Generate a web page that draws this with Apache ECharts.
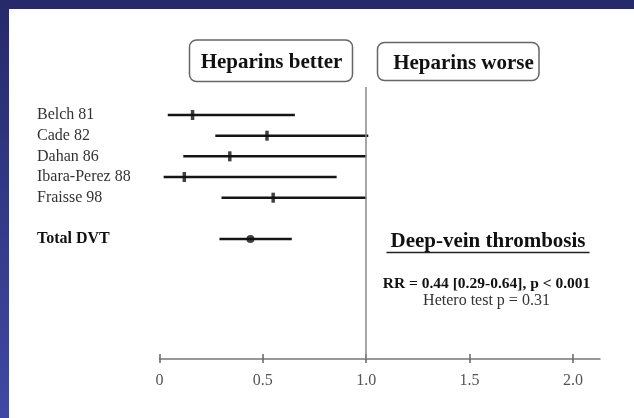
<!DOCTYPE html>
<html>
<head>
<meta charset="utf-8">
<script src="https://cdn.jsdelivr.net/npm/echarts@6/dist/echarts.min.js"></script>
<style>
html,body{margin:0;padding:0;background:#fff;}
#chart{width:634px;height:418px;}
</style>
</head>
<body>
<div id="chart"></div>
<script>
// ---- data ----
const studies = ['Belch 81', 'Cade 82', 'Dahan 86', 'Ibara-Perez 88', 'Fraisse 98'];
const studyRR = [0.16, 0.52, 0.34, 0.12, 0.55];
const studyLower = [0.04, 0.27, 0.115, 0.02, 0.30];
const studyUpper = [0.655, 1.01, 1.0, 0.857, 1.0];
const studyRows = [0, 1, 2, 3, 4];
const totalLabel = 'Total DVT';
const totalRR = 0.44;
const totalLower = 0.29;
const totalUpper = 0.64;
const totalRow = 6;
const xTicks = [0, 0.5, 1.0, 1.5, 2.0];
const xTickLabels = ['0', '0.5', '1.0', '1.5', '2.0'];
const nullValue = 1.0;

const rowLabels = studies.concat([totalLabel]);
const rowPositions = studyRows.concat([totalRow]);

const serif = "'Liberation Serif', 'Times New Roman', serif";

const ciData = studyRows.map((r, i) => [studyLower[i], studyUpper[i], r]).concat([[totalLower, totalUpper, totalRow]]);
const studyPts = studyRows.map((r, i) => [studyRR[i], r]);
const totalPts = [[totalRR, totalRow]];

const chart = echarts.init(document.getElementById('chart'), null, {renderer: 'canvas'});
chart.setOption({
  animation: false,
  backgroundColor: '#ffffff',
  grid: {left: 159.5, right: 34, top: 87, bottom: 59},
  xAxis: [{
    type: 'value', min: 0, max: 2.131, position: 'bottom',
    axisLine: {show: true, onZero: false, lineStyle: {color: '#777', width: 1.5}},
    axisTick: {show: true, customValues: xTicks, length: 4, lineStyle: {color: '#666', width: 1.5}},
    axisLabel: {
      customValues: xTicks, margin: 14,
      formatter: v => xTickLabels[xTicks.indexOf(v)] ?? '',
      fontFamily: serif, fontSize: 16, color: '#555'
    },
    splitLine: {show: false}
  }, {
    type: 'value', min: 0, max: 2.131, position: 'bottom', offset: 0,
    axisLine: {show: false, onZero: false},
    axisTick: {show: true, inside: true, customValues: xTicks, length: 5, lineStyle: {color: '#666', width: 1.5}},
    axisLabel: {show: false},
    splitLine: {show: false}
  }],
  yAxis: {
    type: 'value', inverse: true, min: -1.355, max: 11.804,
    axisLine: {show: false, onZero: false}, axisTick: {show: false}, splitLine: {show: false},
    axisLabel: {
      customValues: rowPositions, align: 'left', margin: 122.5,
      formatter: v => {
        const i = rowPositions.indexOf(v);
        if (i < 0) return '';
        return v === totalRow ? '{b|' + rowLabels[i] + '}' : rowLabels[i];
      },
      fontFamily: serif, fontSize: 16, color: '#333',
      rich: {b: {fontFamily: serif, fontSize: 16, fontWeight: 'bold', color: '#111'}}
    }
  },
  series: [{
    type: 'custom',
    data: ciData,
    encode: {x: [0, 1], y: 2},
    renderItem: (params, api) => {
      const p1 = api.coord([api.value(0), api.value(2)]);
      const p2 = api.coord([api.value(1), api.value(2)]);
      return {type: 'line', shape: {x1: p1[0], y1: p1[1], x2: p2[0], y2: p2[1]},
        style: {stroke: '#151515', lineWidth: 2.5}};
    },
    markLine: {
      silent: true, symbol: 'none', label: {show: false},
      lineStyle: {color: '#888', width: 1.5, type: 'solid'},
      data: [{xAxis: nullValue}]
    },
    z: 2
  }, {
    type: 'scatter', data: studyPts, symbol: 'rect', symbolSize: [3.5, 10],
    itemStyle: {color: '#111'}, z: 3
  }, {
    type: 'scatter', data: totalPts, symbol: 'circle', symbolSize: 8,
    itemStyle: {color: '#111'}, z: 3
  }],
  graphic: [
    {type: 'rect', shape: {x: 0, y: 0, width: 634, height: 9}, style: {fill: '#262a6a'}, z: 10},
    {type: 'rect', shape: {x: 0, y: 0, width: 9, height: 418},
      style: {fill: new echarts.graphic.LinearGradient(0, 0, 0, 1, [{offset: 0, color: '#262a6a'}, {offset: 1, color: '#3f49a3'}])}, z: 10},
    {type: 'rect', shape: {x: 189.5, y: 40, width: 163, height: 41.5, r: 7},
      style: {fill: '#fff', stroke: '#666', lineWidth: 1.5}, z: 5},
    {type: 'text', x: 271.5, y: 62.5, style: {text: 'Heparins better', font: "bold 21px 'Liberation Serif'", fill: '#111', align: 'center', verticalAlign: 'middle'}, z: 6},
    {type: 'rect', shape: {x: 377.5, y: 42.5, width: 161.5, height: 38, r: 7},
      style: {fill: '#fff', stroke: '#666', lineWidth: 1.5}, z: 5},
    {type: 'text', x: 463.5, y: 64, style: {text: 'Heparins worse', font: "bold 21px 'Liberation Serif'", fill: '#111', align: 'center', verticalAlign: 'middle'}, z: 6},
    {type: 'text', x: 488, y: 242, style: {text: 'Deep-vein thrombosis', font: "bold 21px 'Liberation Serif'", fill: '#111', align: 'center', verticalAlign: 'middle'}, z: 6},
    {type: 'line', shape: {x1: 386.5, y1: 252.5, x2: 589.5, y2: 252.5}, style: {stroke: '#222', lineWidth: 1.5}, z: 6},
    {type: 'text', x: 486.5, y: 283.5, style: {text: 'RR = 0.44 [0.29-0.64], p < 0.001', font: "bold 15.5px 'Liberation Serif'", fill: '#111', align: 'center', verticalAlign: 'middle'}, z: 6},
    {type: 'text', x: 486.5, y: 300.5, style: {text: 'Hetero test p = 0.31', font: "16px 'Liberation Serif'", fill: '#333', align: 'center', verticalAlign: 'middle'}, z: 6}
  ]
});
</script>
</body>
</html>
